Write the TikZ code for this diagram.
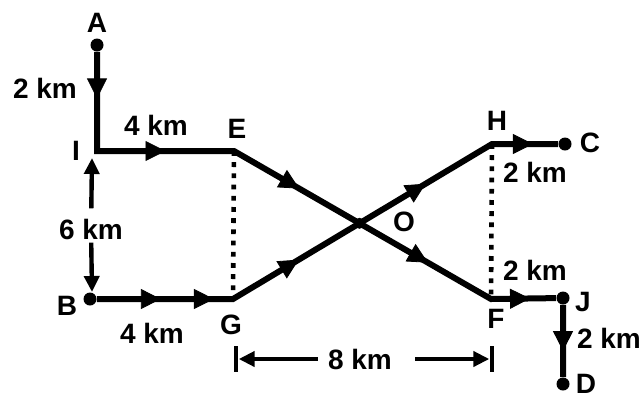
\documentclass[tikz,border=0pt]{standalone}
\usepackage{fontspec}
\setmainfont{Liberation Sans}
\usetikzlibrary{arrows.meta,decorations.markings}

\begin{document}
\begin{tikzpicture}[
  x=0.5pt, y=-0.5pt,
  road/.style={line width=3pt, line join=miter},
  flow/.style={postaction={decorate}, decoration={markings,
      mark=at position #1 with {\arrow{Triangle[length=10pt,width=10pt]}}}},
  flow/.default=0.5,
  spot/.style={circle, fill, inner sep=0pt, minimum size=6.5pt},
  link/.style={line width=2.3pt, dash pattern=on 2.4pt off 3.2pt},
  dim/.style={line width=2.2pt, -{Triangle[length=8pt,width=7.5pt]}},
  tick/.style={fill, inner sep=0pt, minimum width=2.3pt, minimum height=13pt},
  lbl/.style={font=\fontsize{14}{16}\selectfont\bfseries, inner sep=0pt},
]
\useasboundingbox (0,0) rectangle (641,397);

%% Points of the route
\node[spot] (A) at (97,45) {};
\coordinate (I) at (97,151);
\coordinate (E) at (234,151);
\node[spot] (B) at (90,299) {};
\coordinate (G) at (233,299);
\coordinate (H) at (492,144);
\node[spot] (C) at (565,144) {};
\coordinate (F) at (491,299);
\node[spot] (J) at (563,298) {};
\node[spot] (D) at (563,384) {};
\coordinate (O) at (intersection of E--F and G--H);
\node[spot, minimum size=5.5pt] (Odot) at (O) {};

%% Roads
\draw[road] (A) -- (I) -- (E) -- (O) -- (F) -- (J) -- (D);
\draw[road] (B) -- (G) -- (O) -- (H) -- (C);

%% Direction arrows
\path[flow=0.47] (A) -- (I);
\path[flow] (I) -- (E);
\path[flow=0.52] (E) -- (O);
\path[flow=0.52] (O) -- (F);
\path[flow=0.47] (B) -- (G);
\path[flow=0.86] (B) -- (G);
\path[flow=0.52] (G) -- (O);
\path[flow=0.5] (O) -- (H);
\path[flow=0.62] (H) -- (C);
\path[flow=0.6] (F) -- (J);
\path[flow=0.64] (J) -- (D);

%% Dotted links
\draw[link] (E) -- (G);
\draw[link] (H) -- (F);

%% Point labels
\node[lbl] (tA) at (97,23) {A};
\node[lbl] (tI) at (76,151) {I};
\node[lbl] (tE) at (237,129) {E};
\node[lbl] (tB) at (67,306) {B};
\node[lbl] (tG) at (231,325) {G};
\node[lbl] (tO) at (404,222) {O};
\node[lbl] (tH) at (497,121) {H};
\node[lbl] (tC) at (590,143) {C};
\node[lbl] (tF) at (496,319) {F};
\node[lbl] (tJ) at (583,302) {J};
\node[lbl] (tD) at (586,384) {D};

%% Distances
\node[lbl] (dAI) at (45,88) {2 km};
\node[lbl] (dIE) at (156,125) {4 km};
\node[lbl] (dBG) at (152,333) {4 km};
\node[lbl] (dHC) at (535,172) {2 km};
\node[lbl] (dFJ) at (535,270) {2 km};
\node[lbl] (dJD) at (609,338) {2 km};

%% 6 km between I and B
\node[lbl] (dBI) at (91,229) {6 km};
\coordinate (iTip) at (92,158);
\coordinate (bTip) at (92,292);
\draw[dim, shorten <=5pt] (dBI) -- (iTip);
\draw[dim, shorten <=1.5pt] (dBI) -- (bTip);

%% 8 km between G and F
\node[lbl] (dGF) at (360,359) {8 km};
\node[tick] (barG) at (236,359) {};
\node[tick] (barF) at (492,359) {};
\draw[dim, shorten <=5pt] (dGF) -- (barG);
\draw[dim, shorten <=11.5pt] (dGF) -- (barF);

\end{tikzpicture}
\end{document}
